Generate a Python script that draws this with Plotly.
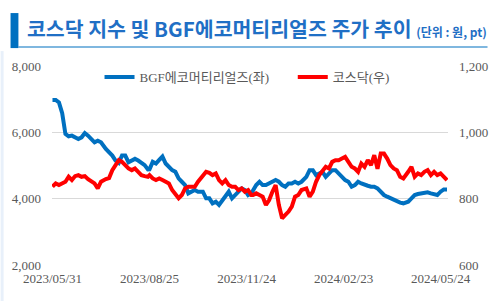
import plotly.graph_objects as go

# trading-day number (0 = 2023/05/31)
trade_day = [0, 2, 4, 6, 8, 10, 12, 14, 16, 18, 20, 22, 24, 26, 28, 30, 33, 35, 37, 39,
             41, 43, 45, 47, 49, 51, 53, 55, 57, 59,
             60, 62, 64, 66, 68, 70, 72, 74, 76, 78, 80, 82, 84, 86, 88, 90, 93, 95, 97, 99,
             101, 103, 105, 107, 109, 111, 113, 115, 117, 119, 121, 123,
             124, 126, 128, 130, 132, 134, 136, 138, 140, 142, 144, 146, 148, 150, 152, 154,
             157, 159, 161, 163, 165, 167, 169, 171, 173, 175, 177, 179, 181, 183, 185, 187,
             189, 191, 193, 195, 197, 199, 201, 203, 205, 207, 209, 211, 213, 215, 217, 220,
             222, 224, 226, 228, 230, 232, 234, 236, 238, 240, 242, 244]

bgf = [6975, 6975, 6900, 6580, 5950, 5880, 5900, 5850, 5800, 5850, 5980, 5900, 5800, 5700, 5750,
       5700, 5500, 5400, 5300, 5150, 5080, 5300, 5300, 5100, 5150, 5200, 5150, 5080, 5010, 4880,
       4885, 5110, 5060, 5170, 5270, 5060, 4960, 4860, 4810, 4610, 4510, 4410, 4160, 4210, 4260,
       4210, 4210, 4010, 4010, 3860, 3910, 3810, 3960, 4110, 4210, 4010, 4110, 4210, 4310, 4260,
       4110, 4160,
       4260, 4410, 4510, 4410, 4410, 4460, 4510, 4560, 4510, 4410, 4360, 4460, 4460, 4510, 4460,
       4510, 4660, 4860, 4860, 4710, 4760, 4810, 4660, 4760, 4860, 4860, 4760, 4660, 4560, 4510,
       4360, 4410,
       4510, 4460, 4410, 4390, 4360, 4360, 4310, 4210, 4110, 4060, 4010, 3960, 3910, 3880, 3860,
       3910, 4010, 4110, 4140, 4160, 4160, 4190, 4160, 4140, 4110, 4210, 4280, 4280]

kosdaq = [836, 846, 841, 846, 851, 866, 856, 868, 871, 866, 868, 859, 851, 846, 831, 851, 859, 862,
          886, 901, 916, 911, 901, 891, 886, 891, 881, 871, 868, 866,
          871, 861, 856, 861, 856, 851, 846, 826, 811, 801, 811, 831, 836, 836, 836, 851, 871, 881,
          878, 871, 876, 856, 846, 856, 841, 836, 836, 826, 831, 821, 826, 811,
          811, 816, 811, 806, 781, 796, 821, 841, 781, 741, 751, 761, 776, 806, 811, 826, 831, 806,
          821, 851, 871, 886, 896, 891, 911, 916, 916, 921, 926, 911, 896, 891,
          881, 906, 896, 916, 901, 931, 890, 936, 936, 921, 901, 891, 886, 866, 861, 881, 896, 866,
          876, 871, 881, 886, 871, 881, 871, 876, 866, 856]

tick_days = [0, 60, 120, 180, 240]
tick_labels = ["2023/05/31", "2023/08/25", "2023/11/24", "2024/02/23", "2024/05/24"]
left_ticks = [2000, 4000, 6000, 8000]
right_ticks = [600, 800, 1000, 1200]

title_main = "코스닥 지수 및 BGF에코머티리얼즈 주가 추이"
title_unit = "(단위 : 원, pt)"

serif = "Liberation Serif, Noto Sans CJK KR"
tick_font = dict(family=serif, size=13, color="#595959")
legend_font = dict(family=serif, size=13, color="#595959")

fig = go.Figure()
fig.add_trace(go.Scatter(x=trade_day, y=bgf, name="BGF에코머티리얼즈(좌)", mode="lines",
                         line=dict(color="#0070C0", width=4), yaxis="y", legend="legend"))
fig.add_trace(go.Scatter(x=trade_day, y=kosdaq, name="코스닥(우)", mode="lines",
                         line=dict(color="#FF0000", width=4), yaxis="y2", legend="legend2"))

fig.update_layout(
    width=500, height=301,
    margin=dict(l=52, r=47, t=66, b=36),
    paper_bgcolor="white", plot_bgcolor="white",
    showlegend=True,
    hovermode=False,
    title=dict(
        text=f"<b>{title_main}</b> <span style='font-size:12px'><b>{title_unit}</b></span>",
        font=dict(family="Noto Sans CJK KR", size=20.5, color="#1F6FC5"),
        x=0.054, xanchor="left", xref="container",
        y=0.9, yanchor="middle", yref="container",
    ),
    legend=dict(orientation="h", x=0.12, xanchor="left", y=0.945, yanchor="middle",
                font=legend_font, bgcolor="rgba(0,0,0,0)"),
    legend2=dict(orientation="h", x=0.608, xanchor="left", y=0.945, yanchor="middle",
                 font=legend_font, bgcolor="rgba(0,0,0,0)"),
    xaxis=dict(range=[-0.3, 244.6], tickmode="array", tickvals=tick_days, ticktext=tick_labels,
               showgrid=False, zeroline=False, showline=False, ticks="",
               tickfont=tick_font, ticklabelstandoff=4),
    yaxis=dict(range=[2000, 8000], tickmode="array", tickvals=left_ticks,
               tickformat=",", showgrid=True, gridcolor="#D9D9D9", gridwidth=1,
               zeroline=False, showline=False, ticks="", tickfont=tick_font,
               ticklabelstandoff=10),
    yaxis2=dict(range=[600, 1200], tickmode="array", tickvals=right_ticks, tickformat=",",
                overlaying="y", side="right", showgrid=False, zeroline=False,
                showline=False, ticks="", tickfont=tick_font, ticklabelstandoff=10),
    shapes=[
        dict(type="rect", xref="paper", yref="paper", x0=-0.1047, x1=-0.0848, y0=1.090, y1=1.266,
             fillcolor="#0070C0", line=dict(width=0), layer="above"),
        dict(type="line", xref="paper", yref="paper", x0=-0.0848, x1=1.0998, y0=1.0955, y1=1.0955,
             line=dict(color="#0070C0", width=1.2)),
        dict(type="rect", xref="paper", yref="paper", x0=-0.1297, x1=-0.1222, y0=-0.181, y1=1.075,
             fillcolor="#E8F0FA", line=dict(width=0)),
    ],
)

fig.write_html("out.html")
